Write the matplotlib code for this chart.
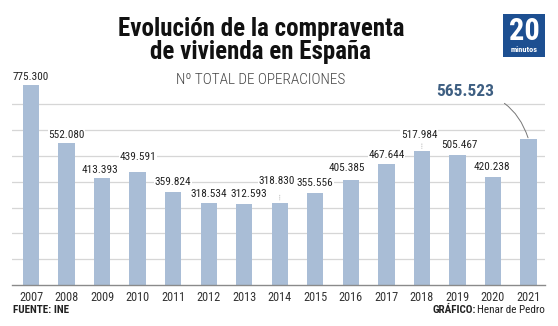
import matplotlib
matplotlib.use("Agg")
import matplotlib.pyplot as plt
from matplotlib.patches import Rectangle

years = ["2007", "2008", "2009", "2010", "2011", "2012", "2013", "2014",
         "2015", "2016", "2017", "2018", "2019", "2020", "2021"]
values = [775300, 552080, 413393, 439591, 359824, 318534, 312593, 318830,
          355556, 405385, 467644, 517984, 505467, 420238, 565523]
labels = ["775.300", "552.080", "413.393", "439.591", "359.824", "318.534",
          "312.593", "318.830", "355.556", "405.385", "467.644", "517.984",
          "505.467", "420.238", "565.523"]

# label offsets above bar top (points) - layout only
label_dy = [2.5, 2, 2.5, 7, 3.5, 2.5, 4, 12, 4, 5, 3, 8.5, 3, 3.5]
label_dx = [0, 0, -1.5, 0, 0, 0, 3, -2, 0, -2.5, 0, -2, 1.5, -1]

FONT = ["Roboto Condensed", "DejaVu Sans"]
plt.rcParams["font.family"] = FONT

fig = plt.figure(figsize=(5.58, 3.26), dpi=100)
ax = fig.add_axes([12/558, 1-285/326, (545-12)/558, (285-80)/326])

bar_color = "#a9bdd6"
x = list(range(len(years)))
ax.bar(x, values, width=0.46, color=bar_color, zorder=2)
ax.set_xlim(-0.535, 14.465)
ax.set_ylim(0, 794600)
ax.set_yticks(range(100000, 800000, 100000))
ax.yaxis.grid(True, color="#d6d6d6", linewidth=0.9, zorder=0)
ax.set_axisbelow(True)
for s in ["top", "right", "left"]:
    ax.spines[s].set_visible(False)
ax.spines["bottom"].set_color("#8a8a8a")
ax.spines["bottom"].set_linewidth(1.0)
ax.tick_params(axis="y", left=False, labelleft=False)
ax.tick_params(axis="x", length=0, pad=4)
ax.set_xticks(x)
ax.set_xticklabels(years, fontsize=8.8, color="#333333")

# value labels
for i in range(len(years) - 1):
    ax.annotate(labels[i], (x[i], values[i]), xytext=(label_dx[i], label_dy[i]),
                textcoords="offset points", ha="center", va="bottom",
                fontsize=8.1, color="#222222", zorder=4,
                bbox=dict(boxstyle="square,pad=0.05", fc="white", ec="none"),
                annotation_clip=False)

# thin connectors for raised labels
for i in (7, 11):
    ax.annotate("", (x[i], values[i]), xytext=(x[i], values[i] + 40000),
                arrowprops=dict(arrowstyle="-", color="#bbbbbb", lw=0.6,
                                linestyle=":"), zorder=3)

# highlighted last value
last = len(years) - 1
ax.annotate(labels[last], (x[last], values[last]),
            xytext=(x[last] - 1.77, values[last] + 186000),
            ha="center", va="center", fontsize=12.5, fontweight="bold",
            color="#3e5f82", annotation_clip=False, zorder=5,
            arrowprops=dict(arrowstyle="-", color="#777777", lw=0.7,
                            shrinkA=6, shrinkB=1,
                            connectionstyle="arc3,rad=-0.35"))

# titles
fig.text(261/558, 1-40.5/326, "Evolución de la compraventa\nde vivienda en España",
         ha="center", va="center", multialignment="center", linespacing=0.95,
         fontsize=18, fontweight="bold", color="#111111")
fig.text(261/558, 1-80/326, "Nº TOTAL DE OPERACIONES", ha="center", va="center",
         fontsize=11, fontweight="light", color="#444444")

# logo
fig.patches.append(Rectangle((503/558, 1-57/326), 42/558, 43/326,
                             transform=fig.transFigure, fc="#1d4f91", ec="none"))
fig.text(524/558, 1-31/326, "20", ha="center", va="center", fontsize=22,
         fontweight="bold", color="white")
fig.text(524/558, 1-49/326, "minutos", ha="center", va="center", fontsize=6,
         fontweight="bold", color="white")

# footer
fig.text(13/558, 1-310/326, "FUENTE: INE", ha="left", va="center",
         fontsize=8, fontweight="bold", color="#222222")
t = fig.text(545/558, 1-310/326, "Henar de Pedro", ha="right", va="center",
             fontsize=8, color="#222222")
fig.canvas.draw()
bb = t.get_window_extent()
fig.text(bb.x0/558 - 0.002, 1-310/326, "GRÁFICO:", ha="right", va="center",
         fontsize=8, fontweight="bold", color="#222222")

fig.savefig("out.png", dpi=100)
